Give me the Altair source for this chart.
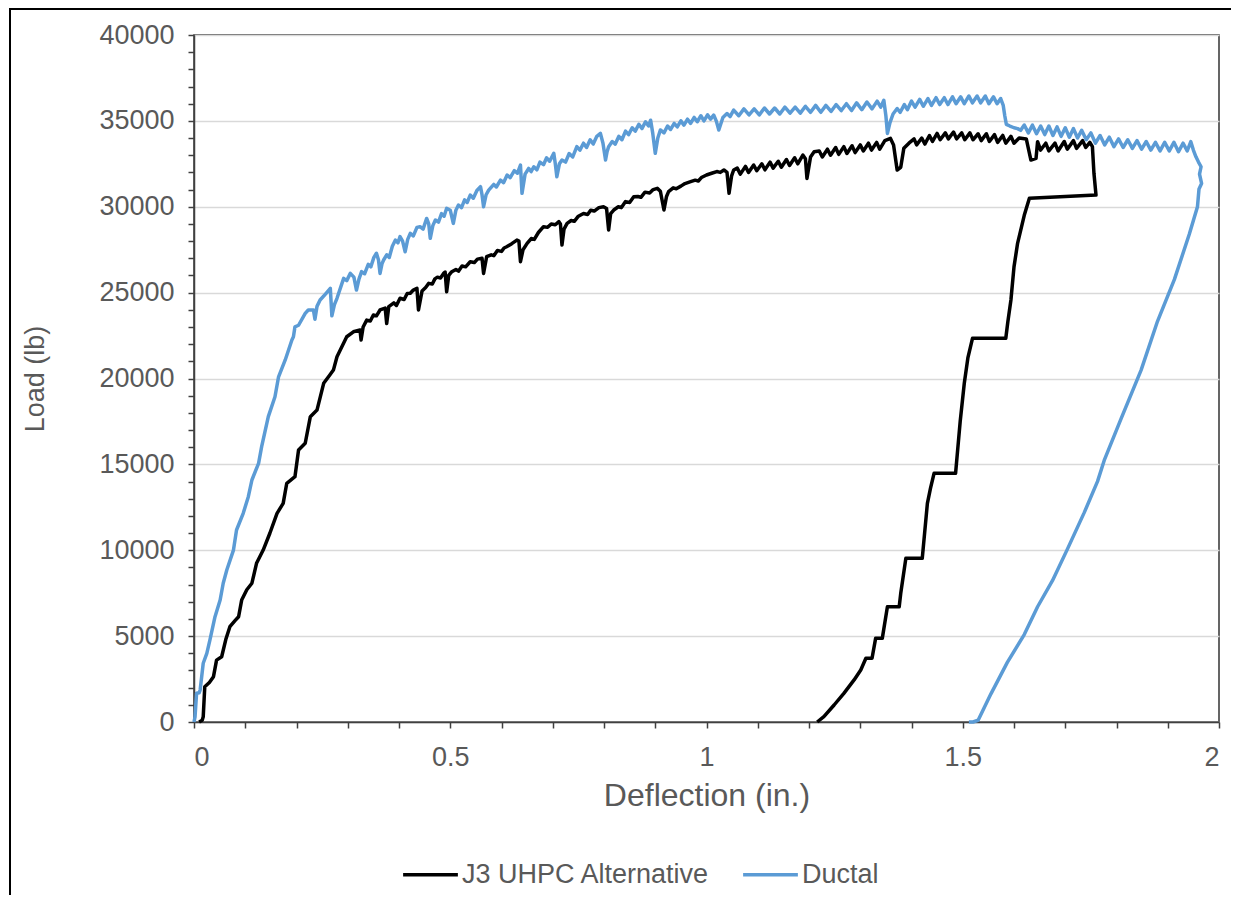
import altair as alt
import pandas as pd

# ---- data ----
j3_x = [0.010,0.016,0.018,0.021,0.030,0.038,0.044,0.054,0.062,0.070,0.080,0.087,0.093,0.103,0.113,0.122,0.135,0.148,0.162,0.174,
        0.181,0.197,0.204,0.217,0.227,0.240,0.253,0.265,0.272,0.279,0.298,0.311,0.324,0.326,0.330,0.337,0.344,0.350,0.356,0.363,
        0.373,0.376,0.380,0.390,0.395,0.402,0.410,0.416,0.422,0.428,0.435,0.438,0.445,0.452,0.458,0.465,0.470,0.475,0.481,0.487,
        0.490,0.493,0.497,0.503,0.511,0.516,0.523,0.530,0.539,0.547,0.553,0.562,0.565,0.571,0.580,0.585,0.592,0.600,0.605,0.610,
        0.620,0.630,0.634,0.637,0.642,0.650,0.658,0.664,0.672,0.682,0.690,0.697,0.705,0.712,0.715,0.718,0.722,0.728,0.736,0.742,
        0.750,0.760,0.768,0.774,0.781,0.790,0.799,0.805,0.809,0.813,0.819,0.828,0.834,0.842,0.850,0.858,0.866,0.872,0.880,0.889,
        0.896,0.904,0.910,0.917,0.922,0.926,0.935,0.941,0.950,0.958,0.969,0.978,0.984,0.990,1.000,1.010,1.020,1.027,1.034,1.040,
        1.044,1.049,1.053,
        1.060,1.066,1.076,1.082,1.092,1.098,1.108,1.114,1.124,1.130,1.140,1.146,1.156,1.162,1.172,1.178,1.188,1.193,1.196,1.203,
        1.210,1.220,1.226,1.236,1.242,1.252,1.258,1.268,1.274,1.284,1.290,1.300,1.306,1.316,1.322,1.332,1.338,1.348,1.359,1.365,
        1.372,1.379,1.385,1.395,1.405,1.410,1.420,1.426,1.435,1.441,1.450,1.456,1.466,1.472,1.482,1.488,1.498,1.504,1.514,1.520,
        1.530,1.536,1.546,1.552,1.562,1.568,1.578,1.584,1.594,1.600,1.610,1.624,1.628,1.633,1.643,1.646,1.652,1.662,1.668,1.680,
        1.686,1.698,1.704,1.716,1.722,1.734,1.740,1.748,1.753,1.756,1.760,1.630,1.620,1.607,1.600,1.594,1.588,1.584,1.519,1.510,
        1.503,1.495,1.486,1.444,1.437,1.431,1.421,1.389,1.379,1.376,1.353,1.343,1.330,1.323,1.311,1.301,1.288,1.268,1.249,1.229,
        1.216]
j3_y = [0,100,300,2050,2300,2640,3600,3800,4800,5550,5900,6130,7100,7700,8080,9240,10010,10990,12150,12730,
        13900,14280,15840,16230,17780,18160,19720,20200,20490,21270,22430,22720,22820,22240,23000,23400,23350,23700,23650,23990,
        24100,23200,24180,24400,24250,24670,24600,24950,24960,25150,25250,23990,25100,25300,25540,25500,25800,25900,25850,26120,
        26200,25050,26000,26220,26350,26250,26550,26500,26800,26750,26950,27000,26120,27090,27200,27150,27450,27400,27600,27670,
        27850,28060,28000,26800,27500,27870,28150,28100,28500,28840,28800,29000,28950,29130,29000,27770,28700,29030,29200,29150,
        29450,29610,29550,29800,29750,29950,30000,29900,28650,29600,29810,30000,29950,30300,30250,30580,30600,30550,30850,30800,
        31000,31070,30900,29810,30600,30880,31100,31050,31200,31350,31460,31550,31500,31700,31850,31950,32050,32000,32140,32000,
        30780,31800,32140,
        32250,31900,32350,32000,32430,32100,32500,32150,32600,32250,32650,32300,32750,32400,32850,32500,33010,32800,31650,32900,
        33200,33250,32900,33350,33000,33450,33050,33500,33100,33550,33150,33600,33250,33700,33300,33750,33350,33850,33980,33600,
        32140,32300,33400,33700,33950,33600,34000,33650,34150,33800,34270,33900,34300,33950,34350,33950,34300,33900,34300,33900,
        34250,33850,34250,33800,34200,33750,34150,33700,34100,33700,34000,33950,33400,32720,32820,33790,33300,33700,33250,33700,
        33250,33800,33350,33850,33400,33850,33450,33750,33500,31950,30680,30490,29500,27870,26500,24570,23300,22340,22340,21200,
        19720,17500,14480,14480,13600,12730,9530,9530,7490,6710,6710,4870,4870,3710,3710,3030,2450,1670,990,310,
        0]

ductal_x = [0.000,0.002,0.005,0.010,0.012,0.018,0.025,0.031,0.041,0.051,0.057,0.064,0.077,0.083,0.096,0.106,0.113,0.126,0.132,0.145,
            0.158,0.165,0.178,0.191,0.194,0.197,0.204,0.217,0.223,0.233,0.236,0.240,0.246,0.256,0.266,0.269,0.274,0.279,
            0.292,0.298,0.305,0.312,0.317,0.322,0.327,0.333,0.340,0.345,0.351,0.356,0.360,0.363,0.367,0.370,0.376,0.381,0.387,0.393,
            0.398,0.402,0.407,0.412,0.417,0.422,0.428,0.435,0.441,0.447,0.454,0.458,0.461,0.466,0.471,0.477,0.483,0.488,0.493,0.500,
            0.506,0.511,0.516,0.522,0.528,0.533,0.539,0.545,0.552,0.559,0.562,0.565,0.570,
            0.575,0.585,0.590,0.598,0.604,0.611,0.617,0.625,0.631,0.637,0.640,0.646,0.653,0.658,0.663,0.669,0.675,0.682,0.688,0.694,
            0.702,0.705,0.708,0.713,0.718,0.725,0.732,0.739,0.747,0.753,0.760,0.766,0.773,0.779,0.786,0.793,0.798,0.803,0.806,0.809,
            0.816,0.822,0.829,0.835,0.842,0.848,0.855,0.861,0.868,0.874,0.881,0.887,0.891,0.895,0.900,0.905,0.910,0.917,0.924,0.930,
            0.937,0.943,0.950,0.956,0.963,0.969,0.976,0.982,0.989,0.995,1.002,1.008,1.014,1.019,1.024,1.032,1.040,1.046,1.053,
            1.063,1.073,1.083,1.093,1.103,1.113,1.123,1.133,1.143,1.153,1.163,1.173,1.183,1.193,1.203,1.213,1.223,1.233,1.243,1.253,
            1.263,1.273,1.283,1.293,1.303,1.313,1.323,1.333,1.340,1.346,1.350,1.353,1.358,1.364,1.372,1.378,1.386,1.392,1.400,1.407,
            1.416,1.423,1.432,1.439,1.448,1.455,1.464,1.471,1.480,1.487,1.496,1.503,1.512,1.519,1.528,1.535,1.544,1.551,1.560,1.567,
            1.574,1.579,1.582,1.585,1.592,1.600,1.607,1.613,1.620,
            1.628,1.636,1.644,1.652,1.660,1.668,1.676,1.684,1.692,1.700,1.708,1.716,1.724,1.732,1.741,1.750,1.759,1.768,1.777,1.786,
            1.795,1.804,1.813,1.822,1.831,1.840,1.849,1.858,1.867,1.876,1.885,1.894,1.903,1.912,1.921,1.930,1.938,1.945,1.950,1.955,
            1.960,1.965,1.962,1.966,1.961,1.958,1.950,1.942,1.913,1.880,1.848,1.809,1.776,1.763,1.737,1.704,1.675,1.646,1.620,1.587,
            1.555,1.530,1.520,1.512]
ductal_y = [0,300,1670,1700,1860,3420,4000,4770,6130,7100,8080,8850,10010,11180,12150,13120,14090,15060,16030,17780,
            18940,20100,21080,22240,22430,23010,23100,23790,23990,23990,23450,24200,24570,24900,25250,23650,24300,24670,
            25830,25700,26120,25900,25150,25800,26220,26100,26650,26500,27050,27290,26900,26120,26700,26900,27200,27050,27700,28060,
            27900,28260,28000,27380,28100,28450,28300,28800,28840,28700,29320,29000,28160,28900,29230,29100,29600,29450,29910,29800,
            29030,29800,30100,29950,30400,30250,30680,30500,30950,31170,30700,30000,30700,
            30970,31300,31150,31550,31400,31850,31700,32100,31950,32430,30780,31900,32230,32050,32330,32150,32600,32450,32850,32650,
            33110,32500,31750,32500,32720,32600,33100,32900,33500,33300,33700,33450,33900,33650,34100,34270,33700,32720,33200,33500,
            33800,33650,34100,33900,34400,34200,34600,34400,34800,34550,34950,34700,35040,34300,33110,34000,34470,34300,34700,34500,
            34850,34650,35000,34750,35100,34850,35200,34950,35300,35000,35350,35100,35340,35000,34470,35200,35430,35250,35630,
            35300,35700,35350,35700,35350,35750,35400,35750,35400,35800,35450,35800,35450,35850,35500,35900,35500,35900,35550,35950,
            35600,36000,35600,36050,35650,36100,35700,36150,35800,36200,35300,34270,34900,35400,35720,35500,35950,35650,36150,35800,
            36250,35850,36300,35900,36350,35950,36350,35950,36400,36000,36400,36000,36450,36050,36450,36050,36450,36000,36400,36000,
            36300,35900,35300,34800,34700,34600,34550,34450,34760,
            34300,34750,34250,34700,34200,34700,34150,34650,34100,34600,34050,34550,34000,34450,33900,34300,33700,34150,33600,34050,
            33500,33950,33450,33900,33400,33850,33350,33800,33300,33750,33250,33750,33250,33750,33200,33700,33250,33790,33300,32910,
            32600,32330,31900,31360,31040,30000,29200,28400,25770,23330,20490,17660,15230,14010,12190,10050,8230,6710,5090,3470,
            1640,100,0,0]

series_names = ["J3 UHPC Alternative", "Ductal"]
series_colors = ["#000000", "#5B9BD5"]

x_ticks = [0, 0.1, 0.2, 0.3, 0.4, 0.5, 0.6, 0.7, 0.8, 0.9, 1, 1.1, 1.2, 1.3, 1.4, 1.5, 1.6, 1.7, 1.8, 1.9, 2]
y_ticks = [0, 1000, 2000, 3000, 4000, 5000, 6000, 7000, 8000, 9000, 10000, 11000, 12000, 13000, 14000, 15000,
           16000, 17000, 18000, 19000, 20000, 21000, 22000, 23000, 24000, 25000, 26000, 27000, 28000, 29000, 30000,
           31000, 32000, 33000, 34000, 35000, 36000, 37000, 38000, 39000, 40000]

df_j3 = pd.DataFrame({"x": j3_x, "y": j3_y, "series": series_names[0]})
df_j3["i"] = range(len(df_j3))
df_du = pd.DataFrame({"x": ductal_x, "y": ductal_y, "series": series_names[1]})
df_du["i"] = range(len(df_du))

FONT = "Liberation Sans"
GREY = "#595959"

x_enc = alt.X("x:Q", scale=alt.Scale(domain=[0, 2], nice=False),
              axis=alt.Axis(values=x_ticks, format="~g", title="Deflection (in.)",
                            labelExpr="abs(datum.value*2 - round(datum.value*2)) < 0.001 ? datum.label : ''",
                            grid=False, tickSize=6, labelPadding=16, titlePadding=10, titleFontSize=32))
y_enc = alt.Y("y:Q", scale=alt.Scale(domain=[0, 40000], nice=False),
              axis=alt.Axis(values=y_ticks, format="d", title="Load (lb)",
                            labelExpr="datum.value % 5000 === 0 ? datum.label : ''",
                            gridOpacity={"condition": {"test": "datum.value % 5000 === 0", "value": 1}, "value": 0},
                            tickSize=6, labelPadding=14, titlePadding=49, titleFontSize=27))
color_enc = alt.Color("series:N",
                      scale=alt.Scale(domain=series_names, range=series_colors),
                      legend=alt.Legend(title=None, orient="none", direction="horizontal",
                                        legendX=207, legendY=810, symbolType="stroke",
                                        symbolSize=3000, symbolStrokeWidth=3.5, labelFontSize=27,
                                        labelColor=GREY, labelFont=FONT, columnPadding=26,
                                        labelOffset=2, padding=0, labelLimit=0))

line_j3 = alt.Chart(df_j3).mark_line(strokeWidth=3.5, strokeJoin="round").encode(
    x=x_enc, y=y_enc, color=color_enc, order="i:Q")
line_du = alt.Chart(df_du).mark_line(strokeWidth=3.5, strokeJoin="round").encode(
    x=x_enc, y=y_enc, color=color_enc, order="i:Q")

frame_left = alt.Chart(alt.Data(values=[{}])).mark_rule(color="#000000", strokeWidth=2).encode(
    x=alt.value(-184), y=alt.value(-27), y2=alt.value(870))
frame_top = alt.Chart(alt.Data(values=[{}])).mark_rule(color="#000000", strokeWidth=2).encode(
    x=alt.value(-184), x2=alt.value(1040), y=alt.value(-26))

chart = alt.layer(line_j3, line_du, frame_left, frame_top).properties(
    width=1025, height=687,
    autosize=alt.AutoSizeParams(type="none"),
    padding={"left": 186, "top": 27, "right": 12, "bottom": 173},
    background="white",
).configure_view(
    stroke="#333333", strokeWidth=1.5
).configure_axis(
    labelFont=FONT, titleFont=FONT, labelFontSize=27,
    labelColor=GREY, titleColor=GREY, titleFontWeight="normal",
    domainColor="#404040", domainWidth=1.5, tickColor="#404040", tickWidth=1.5,
    gridColor="#D9D9D9", gridWidth=1.5
)

chart.save("out.html", embed_options={"renderer": "svg", "actions": False})
